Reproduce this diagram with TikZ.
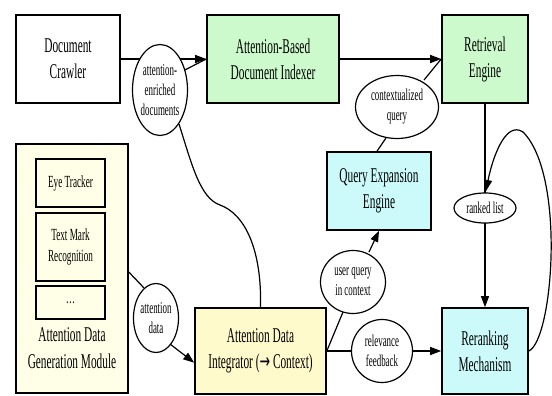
\documentclass[tikz,border=0pt]{standalone}
\usepackage{fontspec}
\setmainfont{Liberation Serif}[FakeStretch=0.54]
\newfontfamily\arrowfont{DejaVu Sans}[FakeStretch=0.6]
\usepackage{xcolor}
\usetikzlibrary{arrows.meta,positioning,shapes.geometric}

\definecolor{idxgreen}{RGB}{204,250,204}
\definecolor{qcyan}{RGB}{204,250,250}
\definecolor{intyellow}{RGB}{255,250,204}
\definecolor{modcream}{RGB}{255,255,232}

\tikzset{
  box/.style={draw,line width=1.6pt,rectangle,inner sep=0pt,align=center,
    font=\fontsize{21}{26}\selectfont},
  subbox/.style={draw,line width=1.4pt,rectangle,inner sep=0pt,align=center,
    fill=modcream,minimum width=69pt,font=\fontsize{17}{21}\selectfont},
  tag/.style={draw,line width=1.2pt,ellipse,inner sep=0pt,align=center,fill=white,
    font=\fontsize{16.5}{20}\selectfont},
  edge/.style={line width=1.2pt},
  arr/.style={edge,-{Triangle[length=11pt,width=8pt]}}
}

\begin{document}
\begin{tikzpicture}[x=1pt,y=-1pt]
  \useasboundingbox (0,0) rectangle (552,396);
  % boxes
  \node[box,minimum width=104pt,minimum height=88pt] (crawler) at (68,59) {Document\\Crawler};
  \node[box,fill=idxgreen,minimum width=132pt,minimum height=88pt] (indexer) at (273,59) {Attention-Based\\Document Indexer};
  \node[box,fill=idxgreen,minimum width=86pt,minimum height=88pt] (retrieval) at (485,59) {Retrieval\\Engine};
  \node[box,fill=qcyan,minimum width=104pt,minimum height=78pt] (qee) at (379,191) {Query Expansion\\Engine};
  \node[box,fill=intyellow,minimum width=131pt,minimum height=86pt] (integrator) at (260.5,351) {Attention Data\\Integrator ({\arrowfont →} Context)};
  \node[box,fill=qcyan,minimum width=86pt,minimum height=86pt] (rerank) at (485,351) {Reranking\\Mechanism};
  % generation module with its parts
  \node[box,fill=modcream,minimum width=112pt,minimum height=249pt] (module) at (72,268.5) {};
  \node[subbox,minimum height=48pt] (eye) at (70.5,183) {Eye Tracker};
  \node[subbox,minimum height=68pt] (textmark) at (70.5,247) {Text Mark\\Recognition};
  \node[subbox,minimum height=33pt] (more) at (70.5,302.5) {\dots};
  \node[align=center,font=\fontsize{21}{27}\selectfont] (modlabel) at (72,348) {Attention Data\\Generation Module};
  % edges
  \draw[arr] (crawler) -- (indexer);
  \draw[arr] (indexer) -- (retrieval);
  \draw[edge] (integrator.north) .. controls (262,250) and (245,214) .. (220,205)
    .. controls (200,198) and (192,165) .. (179,124);
  \draw[edge] (module.east |- 0,272) -- (144,288);
  \draw[arr] (170,344) -- (integrator.190);
  \draw[edge] (integrator.east) -- (352,351);
  \draw[arr] (413,351) -- (rerank);
  \draw[edge] (integrator.east) -- (343,312);
  \draw[arr] (369,252) -- (qee.south);
  \draw[edge] (qee.north -| 377,0) -- (386,138);
  \draw[edge] (424,80) -- (retrieval.west);
  \draw[edge] (181,72) -- (indexer.west);
  \draw[edge] (retrieval) -- (485,193);
  \draw[arr] (485,223) -- (rerank);
  \draw[arr] (rerank.east) .. controls (553,340) and (566,175) .. (523,132)
    .. controls (505,120) and (492,160) .. (486,191);
  % edge labels
  \node[tag,minimum width=55pt,minimum height=91pt] (enriched) at (160,90) {attention-\\enriched\\documents};
  \node[tag,minimum width=83pt,minimum height=63pt] (ctxquery) at (397,107) {contextualized\\query};
  \node[tag,minimum width=62pt,minimum height=30pt] (ranked) at (485,208) {ranked list};
  \node[tag,minimum width=65pt,minimum height=63pt] (userq) at (353,282) {user query\\in context};
  \node[tag,minimum width=61pt,minimum height=63pt] (relfb) at (382,351) {relevance\\feedback};
  \node[tag,minimum width=45pt,minimum height=69pt] (attdata) at (156,318) {attention\\data};
\end{tikzpicture}
\end{document}
